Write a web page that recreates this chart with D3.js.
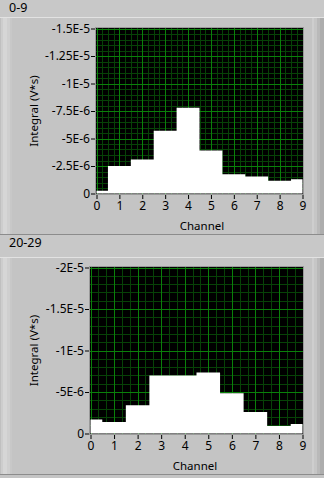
<!DOCTYPE html>
<html>
<head>
<meta charset="utf-8">
<script src="https://cdn.jsdelivr.net/npm/d3@7"></script>
<style>
  body { margin: 0; background: #c4c4c4; }
  svg { display: block; font-family: "Noto Sans", sans-serif; }
</style>
</head>
<body>
<div id="chart-container"></div>
<script>
// Channels on the x axis and tick labels shared by both graphs.
const channels = [0, 1, 2, 3, 4, 5, 6, 7, 8, 9];

// Integral per channel, group 0-9 (V*s).
const integral0to9 = [-0.25e-6, -2.5e-6, -3.1e-6, -5.7e-6, -7.8e-6, -3.9e-6, -1.75e-6, -1.55e-6, -1.15e-6, -1.3e-6];

// Integral per channel, group 20-29 (V*s).
const integral20to29 = [-1.7e-6, -1.4e-6, -3.4e-6, -7.0e-6, -7.0e-6, -7.35e-6, -4.85e-6, -2.6e-6, -0.9e-6, -1.15e-6];

// Y tick values and their labels.
const yTicks1 = [0, -2.5e-6, -5e-6, -7.5e-6, -1e-5, -1.25e-5, -1.5e-5];
const yLabels1 = ["0", "-2.5E-6", "-5E-6", "-7.5E-6", "-1E-5", "-1.25E-5", "-1.5E-5"];
const yTicks2 = [0, -5e-6, -1e-5, -1.5e-5, -2e-5];
const yLabels2 = ["0", "-5E-6", "-1E-5", "-1.5E-5", "-2E-5"];

const titles = ["0-9", "20-29"];

const width = 324;
const height = 478;

const svg = d3.create("svg")
    .attr("width", width)
    .attr("height", height);

// Draw one titled graph panel.
function drawPanel(opt) {
  const g = svg.append("g");

  // title bar
  g.append("rect").attr("x", 0).attr("y", opt.barTop).attr("width", width)
      .attr("height", opt.panelTop - opt.barTop).attr("fill", "#c8c8c8");
  g.append("text").attr("x", 9).attr("y", opt.barTop + 12)
      .attr("font-size", 12.5).attr("fill", "#000").text(opt.title);
  g.append("rect").attr("x", 0).attr("y", opt.panelTop - 2).attr("width", width)
      .attr("height", 1).attr("fill", "#e2e2e2");

  // panel body with 3D edges
  g.append("rect").attr("x", 0).attr("y", opt.panelTop - 1).attr("width", width)
      .attr("height", opt.panelBottom - opt.panelTop + 1).attr("fill", "#c4c4c4");
  const edges = [
    [0, 1, "#c0c0c0"], [1, 2, "#cdcdcd"], [3, 4, "#d6d6d6"], [7, 3, "#cfcfcf"], [10, 2, "#c8c8c8"],
    [312, 2, "#cecece"], [314, 3, "#c6c6c6"], [317, 3, "#b9b9b9"], [320, 4, "#adadad"]
  ];
  edges.forEach(([x, w, c]) => {
    g.append("rect").attr("x", x).attr("y", opt.panelTop - 1).attr("width", w)
        .attr("height", opt.panelBottom - opt.panelTop + 1).attr("fill", c);
  });
  g.append("rect").attr("x", 0).attr("y", opt.panelBottom).attr("width", width)
      .attr("height", 1).attr("fill", "#8c8c8c");

  const x = d3.scaleLinear().domain([0, 9]).range([opt.left + 0.5, opt.right - 0.5]);
  const y = d3.scaleLinear().domain(opt.yDomain).range([opt.bottom - 0.5, opt.top + 0.5]);

  // plot background
  g.append("rect").attr("x", opt.left).attr("y", opt.top)
      .attr("width", opt.right - opt.left).attr("height", opt.bottom - opt.top)
      .attr("fill", "#000");

  // minor grid
  const xMinor = d3.range(0, 9.0001, opt.xMinorStep);
  const yMinor = d3.range(0, opt.yDomain[1] - 1e-12, -opt.yMinorStep);
  g.append("g").selectAll("line").data(xMinor).join("line")
      .attr("x1", d => Math.round(x(d)) + 0.5).attr("x2", d => Math.round(x(d)) + 0.5)
      .attr("y1", opt.top).attr("y2", opt.bottom)
      .attr("stroke", "#074207").attr("stroke-width", 1);
  g.append("g").selectAll("line").data(yMinor).join("line")
      .attr("y1", d => Math.round(y(d)) + 0.5).attr("y2", d => Math.round(y(d)) + 0.5)
      .attr("x1", opt.left).attr("x2", opt.right)
      .attr("stroke", "#074207").attr("stroke-width", 1);

  // major grid
  g.append("g").selectAll("line").data(channels).join("line")
      .attr("x1", d => Math.round(x(d)) + 0.5).attr("x2", d => Math.round(x(d)) + 0.5)
      .attr("y1", opt.top).attr("y2", opt.bottom)
      .attr("stroke", "#0a800a").attr("stroke-width", 1);
  g.append("g").selectAll("line").data(opt.yTicks).join("line")
      .attr("y1", d => Math.round(y(d)) + 0.5).attr("y2", d => Math.round(y(d)) + 0.5)
      .attr("x1", opt.left).attr("x2", opt.right)
      .attr("stroke", "#0a800a").attr("stroke-width", 1);

  // step plot filled to zero
  const area = d3.area()
      .curve(d3.curveStep)
      .x((d, i) => x(channels[i]))
      .y0(y(0))
      .y1(d => y(d));
  g.append("path").datum(opt.values).attr("d", area).attr("fill", "#fff");

  // plot frame
  g.append("rect").attr("x", opt.left - 0.5).attr("y", opt.top - 0.5)
      .attr("width", opt.right - opt.left + 1).attr("height", opt.bottom - opt.top + 1)
      .attr("fill", "none").attr("stroke", "#9a9a9a");

  // y axis
  const yAxis = g.append("g")
      .attr("transform", `translate(${opt.left - 1},0)`)
      .call(d3.axisLeft(y).tickValues(opt.yTicks)
          .tickFormat((d, i) => opt.yLabels[i]).tickSize(4).tickPadding(1));
  yAxis.select(".domain").remove();
  yAxis.selectAll("line").attr("stroke", "#000");
  yAxis.selectAll("text").attr("font-size", 12).attr("font-family", "Noto Sans").attr("fill", "#000");

  // x axis
  const xAxis = g.append("g")
      .attr("transform", `translate(0,${opt.bottom + 1})`)
      .call(d3.axisBottom(x).tickValues(channels).tickFormat(d3.format("d"))
          .tickSize(4).tickPadding(2));
  xAxis.select(".domain").remove();
  xAxis.selectAll("line").attr("stroke", "#000");
  xAxis.selectAll("text").attr("font-size", 12).attr("font-family", "Noto Sans").attr("fill", "#000");

  // axis titles
  g.append("text")
      .attr("transform", `translate(34,${(opt.top + opt.bottom) / 2}) rotate(-90)`)
      .attr("text-anchor", "middle").attr("dy", "0.35em")
      .attr("font-size", 11.5).attr("fill", "#000")
      .text("Integral (V*s)");
  g.append("text")
      .attr("x", opt.xLabelX).attr("y", opt.bottom + 32)
      .attr("text-anchor", "middle").attr("dy", "0.35em")
      .attr("font-size", 11.5).attr("fill", "#000")
      .text("Channel");
}

drawPanel({
  title: titles[0], barTop: 0, panelTop: 19, panelBottom: 234,
  left: 96, right: 303, top: 28, bottom: 194,
  yDomain: [0, -1.5e-5], yTicks: yTicks1, yLabels: yLabels1,
  xMinorStep: 0.25, yMinorStep: 0.5e-6,
  values: integral0to9, xLabelX: 202
});

drawPanel({
  title: titles[1], barTop: 235, panelTop: 259, panelBottom: 474,
  left: 90, right: 303, top: 267, bottom: 434,
  yDomain: [0, -2e-5], yTicks: yTicks2, yLabels: yLabels2,
  xMinorStep: 1 / 3, yMinorStep: 1e-6,
  values: integral20to29, xLabelX: 195
});

d3.select("#chart-container").append(() => svg.node());
</script>
</body>
</html>
